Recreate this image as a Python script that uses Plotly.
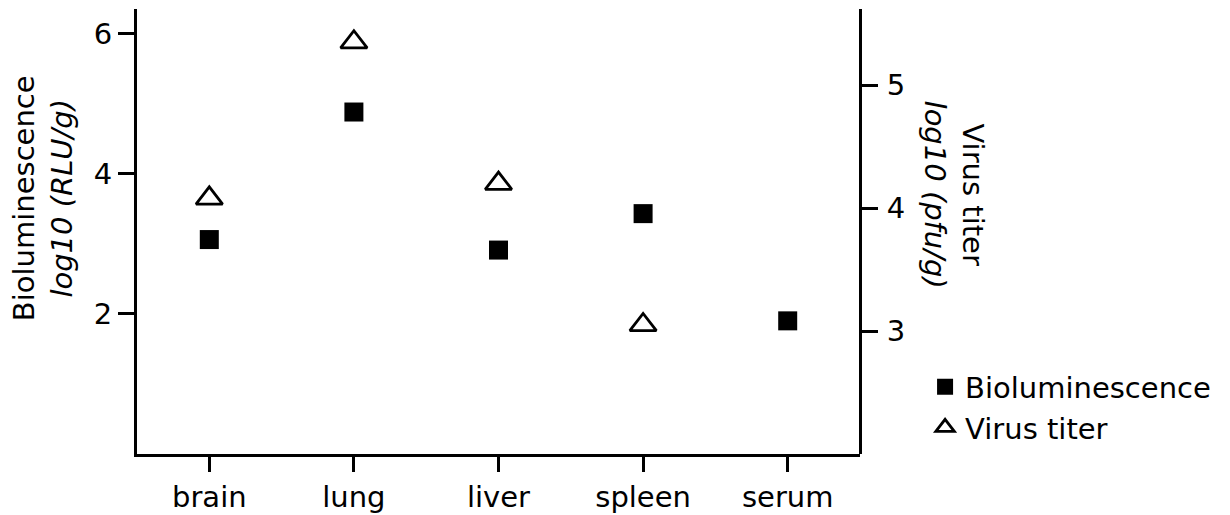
import plotly.graph_objects as go

categories = ["brain", "lung", "liver", "spleen", "serum"]
biolum = [3.06, 4.88, 2.91, 3.43, 1.90]
virus = [4.08, 5.35, 4.20, 3.05, None]
left_ticks = [2, 4, 6]
right_ticks = [3, 4, 5]

FONT = "DejaVu Sans"
FS = 29

fig = go.Figure()
fig.add_trace(go.Scatter(
    x=categories, y=biolum, mode="markers", name="Bioluminescence",
    marker=dict(symbol="square", size=19, color="black", line=dict(width=0)),
    yaxis="y", cliponaxis=False,
))
fig.add_trace(go.Scatter(
    x=categories, y=virus, mode="markers", name="Virus titer",
    marker=dict(symbol="triangle-up", size=23, color="white",
                line=dict(width=2.8, color="black")),
    yaxis="y2", cliponaxis=False,
))

axis_common = dict(
    showline=True, linecolor="black", linewidth=3,
    ticks="outside", tickwidth=2.5, tickcolor="black",
    showgrid=False, zeroline=False, automargin=False,
    tickfont=dict(family=FONT, size=FS, color="black"),
)

fig.update_layout(
    width=1230, height=515,
    margin=dict(l=137, r=370, t=9, b=61),
    paper_bgcolor="white", plot_bgcolor="white",
    font=dict(family=FONT, size=FS, color="black"),
    xaxis=dict(type="category", categoryorder="array", categoryarray=categories,
               range=[-0.5, 4.5], ticklen=15, ticklabelstandoff=0, **axis_common),
    yaxis=dict(range=[0, 6.35], tickvals=left_ticks, ticktext=[str(v) for v in left_ticks],
               ticklen=16, **axis_common),
    yaxis2=dict(range=[2.0, 5.62], tickvals=right_ticks, ticktext=[str(v) for v in right_ticks],
                overlaying="y", side="right", anchor="free", position=1.0,
                ticklen=16, ticklabelstandoff=3, **axis_common),
    legend=dict(x=1.09, y=0.105, xanchor="left", yanchor="middle",
                font=dict(family=FONT, size=FS, color="black"),
                bgcolor="rgba(0,0,0,0)", tracegroupgap=0, itemsizing="trace"),
    showlegend=True,
)

fig.add_annotation(
    text="Bioluminescence<br><i>log10 (RLU/g)</i>", xref="paper", yref="paper",
    x=-0.13, y=0.575, textangle=-90, showarrow=False,
    font=dict(family=FONT, size=FS, color="black"), xanchor="center", yanchor="middle",
)
fig.add_annotation(
    text="Virus titer<br><i>log10 (pfu/g)</i>", xref="paper", yref="paper",
    x=1.13, y=0.583, textangle=90, showarrow=False,
    font=dict(family=FONT, size=FS, color="black"), xanchor="center", yanchor="middle",
)

fig.write_html("out.html")
